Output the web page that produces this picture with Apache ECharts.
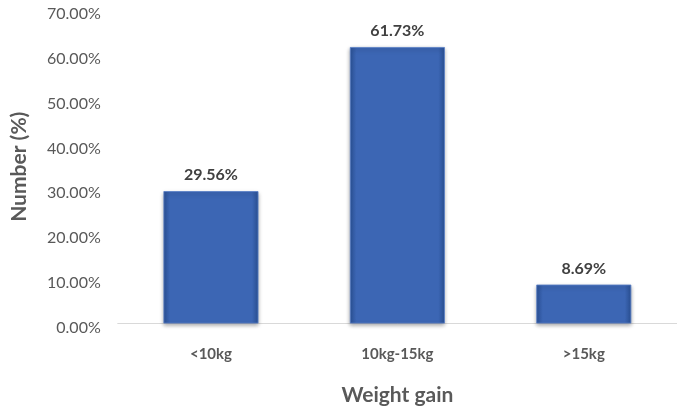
<!DOCTYPE html>
<html>
<head>
<meta charset="utf-8">
<script src="https://cdn.jsdelivr.net/npm/echarts@6/dist/echarts.min.js"></script>
<style>
  html, body { margin: 0; padding: 0; background: #ffffff; }
  #chart { width: 677px; height: 412px; }
</style>
</head>
<body>
<div id="chart"></div>
<script>
// Weight gain groups and the share of participants in each
const categories = ['<10kg', '10kg-15kg', '>15kg'];
const shares = [29.56, 61.73, 8.69];
const yTicks = { min: 0, max: 70, interval: 10 };

const FONT = 'Lato, "Open Sans", sans-serif';
const chart = echarts.init(document.getElementById('chart'));

const barFill = new echarts.graphic.LinearGradient(0, 0, 1, 0, [
  { offset: 0, color: '#2b5297' },
  { offset: 0.07, color: '#3c66b4' },
  { offset: 0.93, color: '#3c66b4' },
  { offset: 1, color: '#2b5297' }
]);

chart.setOption({
  animation: false,
  grid: { left: 117.75, top: 10, width: 562.5, height: 313.5, containLabel: false },
  xAxis: {
    type: 'category',
    data: categories,
    axisLine: { lineStyle: { color: '#d9d9d9', width: 1 } },
    axisTick: { show: false },
    axisLabel: { color: '#595959', fontFamily: FONT, fontWeight: 'bold', fontSize: 15, margin: 23 },
    name: 'Weight gain',
    nameLocation: 'middle',
    nameGap: 61,
    nameTextStyle: { color: '#595959', fontFamily: FONT, fontWeight: 'bold', fontSize: 21 }
  },
  yAxis: {
    type: 'value',
    min: yTicks.min,
    max: yTicks.max,
    interval: yTicks.interval,
    splitLine: { show: false },
    axisLine: { show: false },
    axisTick: { show: false },
    axisLabel: {
      margin: 17,
      formatter: v => '{v|' + v.toFixed(2) + '%}',
      rich: {
        v: { color: '#595959', fontFamily: FONT, fontSize: 16, padding: [8, 0, 0, 0] }
      }
    },
    name: 'Number (%)',
    nameLocation: 'middle',
    nameRotate: 90,
    nameGap: 88,
    nameTextStyle: { color: '#595959', fontFamily: FONT, fontWeight: 'bold', fontSize: 21 }
  },
  series: [{
    type: 'bar',
    data: shares,
    barWidth: 95,
    itemStyle: {
      color: barFill,
      borderColor: '#5a80c8',
      borderWidth: 0.8,
      shadowColor: 'rgba(0,0,0,0.35)',
      shadowBlur: 4,
      shadowOffsetY: 2
    },
    label: {
      show: true,
      position: 'top',
      distance: 8,
      color: '#404040',
      fontFamily: FONT,
      fontWeight: 'bold',
      fontSize: 16,
      formatter: p => p.value.toFixed(2) + '%'
    }
  }]
});
</script>
</body>
</html>
